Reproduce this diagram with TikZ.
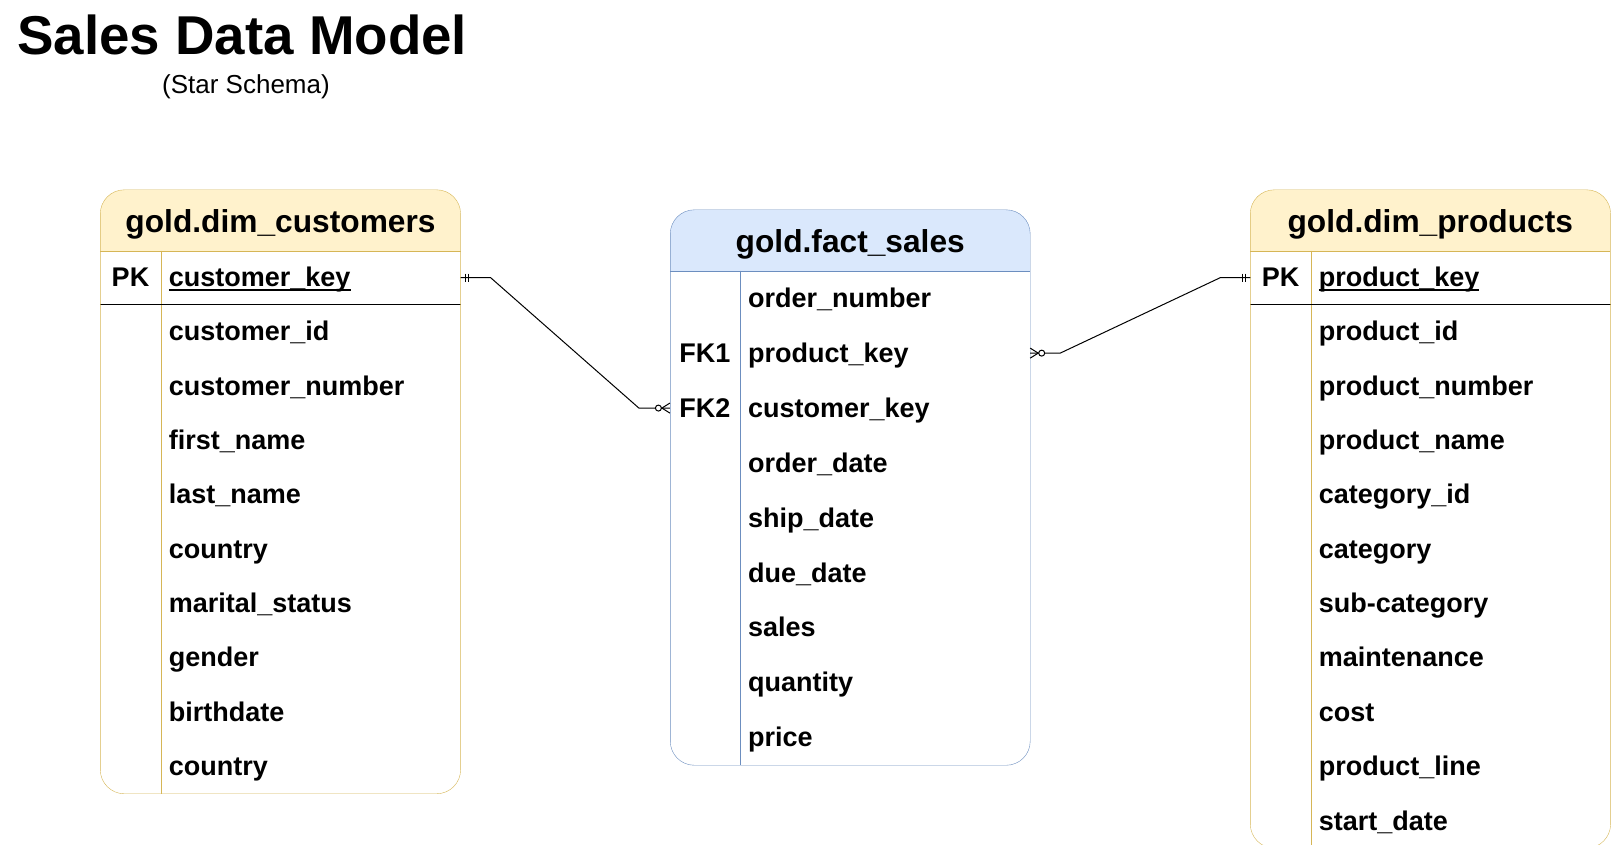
\documentclass[tikz,border=0pt]{standalone}
\usepackage{fontspec}
\setmainfont{Liberation Sans}
\usetikzlibrary{positioning,backgrounds}

\definecolor{dimfill}{HTML}{FFF2CC}
\definecolor{dimline}{HTML}{D6B656}
\definecolor{factfill}{HTML}{DAE8FC}
\definecolor{factline}{HTML}{6C8EBF}

\newcommand{\keytext}[1]{\setbox0=\hbox{#1}\rlap{\rule[-4pt]{\wd0}{1.8pt}}\box0}

\tikzset{
  mandone/.pic={\draw[line width=1pt] (4.5,-4) -- (4.5,4) (8,-4) -- (8,4);},
  zeromany/.pic={\draw[line width=1pt] (0,-5) -- (8,0) -- (0,5);
                 \draw[line width=1pt, fill=white] (11.5,0) circle (3pt);}
}

\begin{document}
\begin{tikzpicture}[x=1pt, y=-1pt]
    \tikzstyle{tablehead} = [font=\fontsize{31.7}{38}\selectfont\bfseries, inner sep=0pt, minimum height=60.5pt, text height=27pt, text depth=2.5pt]
    \tikzstyle{cellfont} = [font=\fontsize{27}{32}\selectfont\bfseries, inner ysep=0pt, text height=21.7pt, text depth=3.5pt]
    \tikzstyle{dimkey} = [cellfont, inner xsep=0pt, minimum width=60pt, minimum height=53.5pt]
    \tikzstyle{dimfield} = [cellfont, inner xsep=8pt, text width=283.5pt, minimum height=53.95pt]
    \tikzstyle{factkey} = [cellfont, inner xsep=0pt, minimum width=69.5pt, minimum height=54.55pt]
    \tikzstyle{factfield} = [cellfont, inner xsep=8pt, text width=274pt, minimum height=54.55pt]
    \tikzstyle{relation} = [draw, line width=1pt]

    \useasboundingbox (0,0) rectangle (1611,845);

    % title
    \node [anchor=base west, inner sep=0pt, font=\fontsize{54.7}{60}\selectfont\bfseries] (title) at (17,55) {Sales Data Model};
    \node [font=\fontsize{26}{30}\selectfont] (subtitle) at (246,86.5) {(Star Schema)};

    % customers
    \node [tablehead, minimum width=360pt] (custhead) at (280.5,220.25) {gold.dim\_customers};
    \node [dimkey, anchor=north west] (custpkk) at (custhead.south west) {PK};
    \node [dimfield, minimum height=53.5pt, right=0pt of custpkk] (custpk) {\keytext{customer\_key}};
    \node [dimfield, below=0pt of custpk] (cust1) {customer\_id};
    \node [dimfield, below=0pt of cust1] (cust2) {customer\_number};
    \node [dimfield, below=0pt of cust2] (cust3) {first\_name};
    \node [dimfield, below=0pt of cust3] (cust4) {last\_name};
    \node [dimfield, below=0pt of cust4] (cust5) {country};
    \node [dimfield, below=0pt of cust5] (cust6) {marital\_status};
    \node [dimfield, below=0pt of cust6] (cust7) {gender};
    \node [dimfield, below=0pt of cust7] (cust8) {birthdate};
    \node [dimfield, below=0pt of cust8] (cust9) {country};

    % fact
    \node [tablehead, minimum width=359.5pt] (facthead) at (850.25,240.25) {gold.fact\_sales};
    \node [factfield, anchor=north east] (fact1) at (facthead.south east) {order\_number};
    \node [factfield, below=0pt of fact1] (fact2) {product\_key};
    \node [factfield, below=0pt of fact2] (fact3) {customer\_key};
    \node [factfield, below=0pt of fact3] (fact4) {order\_date};
    \node [factfield, below=0pt of fact4] (fact5) {ship\_date};
    \node [factfield, below=0pt of fact5] (fact6) {due\_date};
    \node [factfield, below=0pt of fact6] (fact7) {sales};
    \node [factfield, below=0pt of fact7] (fact8) {quantity};
    \node [factfield, below=0pt of fact8] (fact9) {price};
    \node [factkey, left=0pt of fact2] (fk1) {FK1};
    \node [factkey, left=0pt of fact3] (fk2) {FK2};

    % products
    \node [tablehead, minimum width=359.5pt] (prodhead) at (1430.25,220.25) {gold.dim\_products};
    \node [dimkey, anchor=north west] (prodpkk) at (prodhead.south west) {PK};
    \node [dimfield, minimum height=53.5pt, right=0pt of prodpkk] (prodpk) {\keytext{product\_key}};
    \node [dimfield, below=0pt of prodpk] (prod1) {product\_id};
    \node [dimfield, below=0pt of prod1] (prod2) {product\_number};
    \node [dimfield, below=0pt of prod2] (prod3) {product\_name};
    \node [dimfield, below=0pt of prod3] (prod4) {category\_id};
    \node [dimfield, below=0pt of prod4] (prod5) {category};
    \node [dimfield, below=0pt of prod5] (prod6) {sub-category};
    \node [dimfield, below=0pt of prod6] (prod7) {maintenance};
    \node [dimfield, below=0pt of prod7] (prod8) {cost};
    \node [dimfield, below=0pt of prod8] (prod9) {product\_line};
    \node [dimfield, below=0pt of prod9] (prod10) {start\_date};

    % table frames
    \begin{scope}[on background layer, line width=1pt]
        \fill [white, rounded corners=24pt] (custhead.north west) rectangle (cust9.south east);
        \begin{scope}
            \clip [rounded corners=24pt] (custhead.north west) rectangle (cust9.south east);
            \fill [dimfill] (custhead.north west) rectangle (custhead.south east);
        \end{scope}
        \draw [dimline] (custhead.south west) -- (custhead.south east);
        \draw [dimline] (custpkk.north east) -- (custpkk.east |- cust9.south);
        \draw (custpkk.south west) -- (custpk.south east);
        \draw [dimline, rounded corners=24pt] (custhead.north west) rectangle (cust9.south east);

        \fill [white, rounded corners=24pt] (facthead.north west) rectangle (fact9.south east);
        \begin{scope}
            \clip [rounded corners=24pt] (facthead.north west) rectangle (fact9.south east);
            \fill [factfill] (facthead.north west) rectangle (facthead.south east);
        \end{scope}
        \draw [factline] (facthead.south west) -- (facthead.south east);
        \draw [factline] (fact1.north west) -- (fact9.south west);
        \draw [factline, rounded corners=24pt] (facthead.north west) rectangle (fact9.south east);

        \fill [white, rounded corners=24pt] (prodhead.north west) rectangle (prod10.south east);
        \begin{scope}
            \clip [rounded corners=24pt] (prodhead.north west) rectangle (prod10.south east);
            \fill [dimfill] (prodhead.north west) rectangle (prodhead.south east);
        \end{scope}
        \draw [dimline] (prodhead.south west) -- (prodhead.south east);
        \draw [dimline] (prodpkk.north east) -- (prodpkk.east |- prod10.south);
        \draw (prodpkk.south west) -- (prodpk.south east);
        \draw [dimline, rounded corners=24pt] (prodhead.north west) rectangle (prod10.south east);
    \end{scope}

    % relations
    \draw [relation] (custpk.east) -- ++(30,0) -- ([xshift=-31pt]fk2.west) -- (fk2.west);
    \draw [relation] (fact2.east) -- ++(30,0) -- ([xshift=-30pt]prodpkk.west) -- (prodpkk.west);
    \path (custpk.east) pic {mandone};
    \path (fk2.west) pic[xscale=-1] {zeromany};
    \path (fact2.east) pic {zeromany};
    \path (prodpkk.west) pic[xscale=-1] {mandone};
\end{tikzpicture}
\end{document}
